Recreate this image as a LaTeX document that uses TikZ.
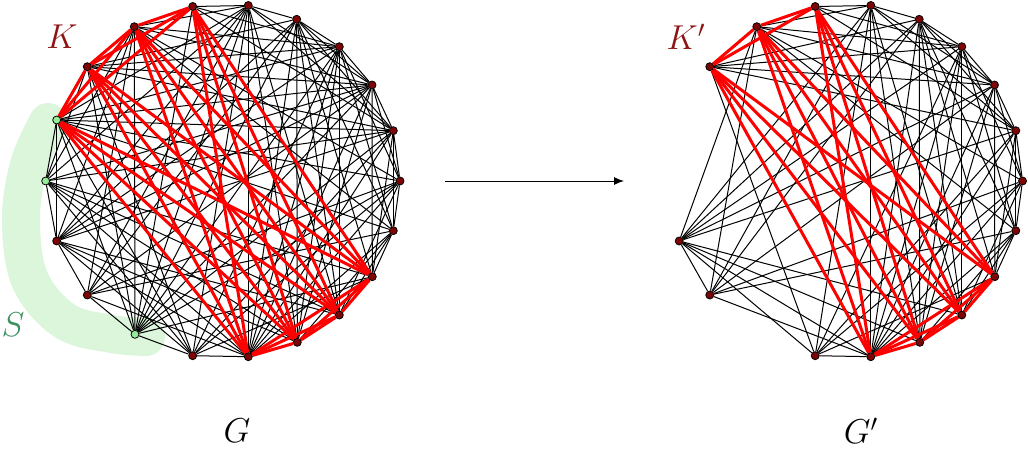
\documentclass[tikz,border=0pt]{standalone}
\usetikzlibrary{arrows.meta}
\definecolor{vred}{RGB}{125,5,5}
\definecolor{klab}{RGB}{140,20,20}
\definecolor{sfill}{RGB}{220,246,220}
\definecolor{slab}{RGB}{60,145,95}
\definecolor{vgreen}{RGB}{150,235,150}
\pgfdeclarelayer{bg}
\pgfsetlayers{bg,main}
\begin{document}
\begin{tikzpicture}[x=0.5pt,y=-0.5pt,
  blk/.style={line width=0.5pt,black},
  redge/.style={line width=1.5pt,red},
  vtx/.style={circle,draw=black,line width=0.4pt,fill=vred,inner sep=0pt,minimum size=4pt},
  svtx/.style={vtx,fill=vgreen},
  lab/.style={font=\fontsize{17}{20}\selectfont,inner sep=0pt}]
\useasboundingbox (0,0) rectangle (1028,449);
% vertices
\foreach \i/\x/\y in {0/400/181,1/393.3/130.7,2/372/85,3/339.3/46.7,4/296.7/19.3,5/248.3/5.5,6/192.7/6.5,7/134.3/26.7,8/87.3/66.7,9/56.7/120,10/45.7/181,11/56.7/241,12/87.3/295,13/135/334.3,14/192.7/355.7,15/248.3/356.7,16/297.3/342.3,17/339.3/315,18/372.3/276.7,19/393.3/230.7}{
  \pgfmathtruncatemacro\isS{(\i==9)+(\i==10)+(\i==13)}
  \ifnum\isS=1
    \node[svtx] (a\i) at (\x,\y) {};
  \else
    \node[vtx] (a\i) at (\x,\y) {};
    \node[vtx] (b\i) at (\x+622.5,\y) {};
  \fi
}
\begin{pgfonlayer}{bg}
\draw[sfill,line width=19pt,line cap=round,line join=round]
  plot[smooth,tension=0.6] coordinates {(48,122) (29,165) (21,220) (30,280) (65,321) (112,334) (146,337)};
% black edges
\pgfmathsetseed{4242}
\foreach \i in {0,...,18}{
  \pgfmathtruncatemacro\js{\i+1}
  \foreach \j in {\js,...,19}{
    \pgfmathtruncatemacro\kk{((\i>5)*(\i<10)+(\i>14)*(\i<19))*((\j>5)*(\j<10)+(\j>14)*(\j<19))}
    \pgfmathtruncatemacro\ss{(\i==9)+(\i==10)+(\i==13)+(\j==9)+(\j==10)+(\j==13)}
    \pgfmathtruncatemacro\cc{(\j-\i==1)+(\i==0)*(\j==19)}
    \pgfmathtruncatemacro\xx{(\i==8)*(\j==11)+(\i==8)*(\j==12)}
    \pgfmathrandominteger{\ra}{0}{99}
    \pgfmathtruncatemacro\ge{(((\ra<60)+\cc)>0)*(1-\kk)*(1-\xx)}
    \ifnum\ge=1
      \draw[blk] (a\i) -- (a\j);
      \ifnum\ss=0 \draw[blk] (b\i) -- (b\j); \fi
    \fi
  }
}
% red clique edges
\foreach \i/\js in {6/{7,8,9,15,16,17,18},7/{8,9,15,16,17,18},8/{9,15,16,17,18},9/{15,16,17,18},15/{16,17,18},16/{17,18},17/{18}}{
  \foreach \j in \js {
    \draw[redge] (a\i) -- (a\j);
    \pgfmathtruncatemacro\ss{(\i==9)+(\j==9)}
    \ifnum\ss=0 \draw[redge] (b\i) -- (b\j); \fi
  }
}
\end{pgfonlayer}
% labels
\node[lab,text=klab] (lk) at (62,37) {$K$};
\node[lab,text=klab] (lkp) at (686,37) {$K'$};
\node[lab,text=slab] (ls) at (13,325) {$S$};
\node[lab] (lg) at (237,431) {$G$};
\node[lab] (lgp) at (861,431) {$G'$};
% arrow
\coordinate (ar1) at (445,181);
\coordinate (ar2) at (624,181);
\draw[line width=0.5pt,-{Latex[length=5pt,width=4pt]}] (ar1) -- (ar2);
\end{tikzpicture}
\end{document}
